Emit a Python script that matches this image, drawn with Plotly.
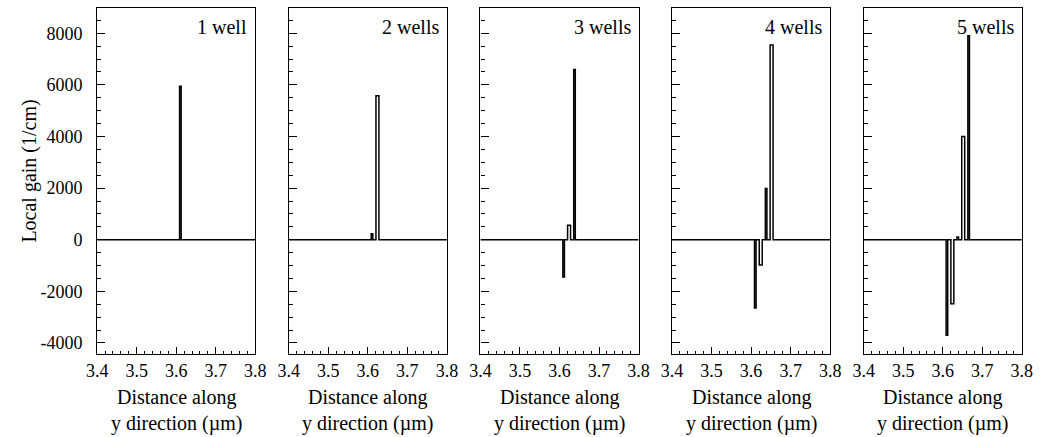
import plotly.graph_objects as go

# Layer boundaries along y (µm) shared by every structure
layer_lo = [3.6085, 3.6205, 3.6360, 3.6480, 3.6635]
layer_hi = [3.6125, 3.6280, 3.6400, 3.6555, 3.6675]

# Local gain (1/cm) in each layer, one list per structure
gain_1well = [5950]
gain_2wells = [230, 5580]
gain_3wells = [-1450, 560, 6600]
gain_4wells = [-2650, -980, 1980, 7550]
gain_5wells = [-3700, -2480, 100, 4000, 7900]

panel_labels = ["1 well", "2 wells", "3 wells", "4 wells", "5 wells"]
panel_gains = [gain_1well, gain_2wells, gain_3wells, gain_4wells, gain_5wells]

x_start, x_end = 3.4, 3.8
y_tickvals = [-4000, -2000, 0, 2000, 4000, 6000, 8000]
y_ticktext = ["-4000", "-2000", "0", "2000", "4000", "6000", "8000"]
x_tickvals = [3.4, 3.5, 3.6, 3.7, 3.8]
x_ticktext = ["3.4", "3.5", "3.6", "3.7", "3.8"]

W, H = 1048, 437
left0, pw, pitch = 88, 161.5, 195.75
top_px, bot_px = 8, 354

SERIF = "Liberation Serif"

fig = go.Figure()


def step_profile(gains):
    xs, ys = [x_start], [0]
    for lo, hi, g in zip(layer_lo, layer_hi, gains):
        xs += [lo, lo, hi, hi]
        ys += [0, g, g, 0]
    xs.append(x_end)
    ys.append(0)
    return xs, ys


for i, (label, gains) in enumerate(zip(panel_labels, panel_gains)):
    n = "" if i == 0 else str(i + 1)
    xs, ys = step_profile(gains)
    fig.add_trace(go.Scatter(
        x=xs, y=ys, mode="lines",
        line=dict(color="black", width=1.5),
        xaxis="x" + n, yaxis="y" + n, showlegend=False, hoverinfo="skip",
    ))
    x0 = (left0 + pitch * i) / W
    x1 = (left0 + pitch * i + pw) / W
    axis_common = dict(
        showline=True, linecolor="black", linewidth=1.2, mirror=True,
        showgrid=False, zeroline=False, ticks="inside", tickcolor="black",
        tickwidth=1, tickfont=dict(family=SERIF, size=18, color="black"),
    )
    fig.layout["xaxis" + n] = dict(
        axis_common, domain=[x0, x1], range=[x_start, x_end],
        anchor="y" + n, tickmode="array", tickvals=x_tickvals,
        ticktext=x_ticktext, ticklen=7, ticklabelstandoff=0,
        minor=dict(dtick=0.02, ticks="inside", ticklen=3, tickcolor="black",
                   showgrid=False),
    )
    fig.layout["yaxis" + n] = dict(
        axis_common, domain=[1 - bot_px / H, 1 - top_px / H],
        range=[-4430, 8980], anchor="x" + n, tickmode="array",
        tickvals=y_tickvals, ticktext=y_ticktext, ticklen=8,
        showticklabels=(i == 0), ticklabelstandoff=10,
        minor=dict(dtick=500, ticks="inside", ticklen=4, tickcolor="black",
                   showgrid=False),
    )
    # structure label in the upper right corner
    fig.add_annotation(
        x=x1 - 6 / W, y=1 - 27 / H, xref="paper", yref="paper",
        text=label, showarrow=False, xanchor="right", yanchor="middle",
        font=dict(family=SERIF, size=20, color="black"),
    )
    # two-line x axis title
    fig.add_annotation(
        x=(x0 + x1) / 2, y=1 - 410 / H, xref="paper", yref="paper",
        text="Distance along<br>y direction (µm)", showarrow=False,
        xanchor="center", yanchor="middle",
        font=dict(family=SERIF, size=20, color="black"),
    )

fig.add_annotation(
    x=19 / W, y=1 - 171 / H, xref="paper", yref="paper",
    text="Local gain (1/cm)", textangle=-90, showarrow=False,
    xanchor="center", yanchor="middle",
    font=dict(family=SERIF, size=20, color="black"),
)

fig.update_layout(
    width=W, height=H, margin=dict(l=0, r=0, t=0, b=0),
    paper_bgcolor="white", plot_bgcolor="white",
    font=dict(family=SERIF, color="black"),
)

fig.write_html("out.html")
